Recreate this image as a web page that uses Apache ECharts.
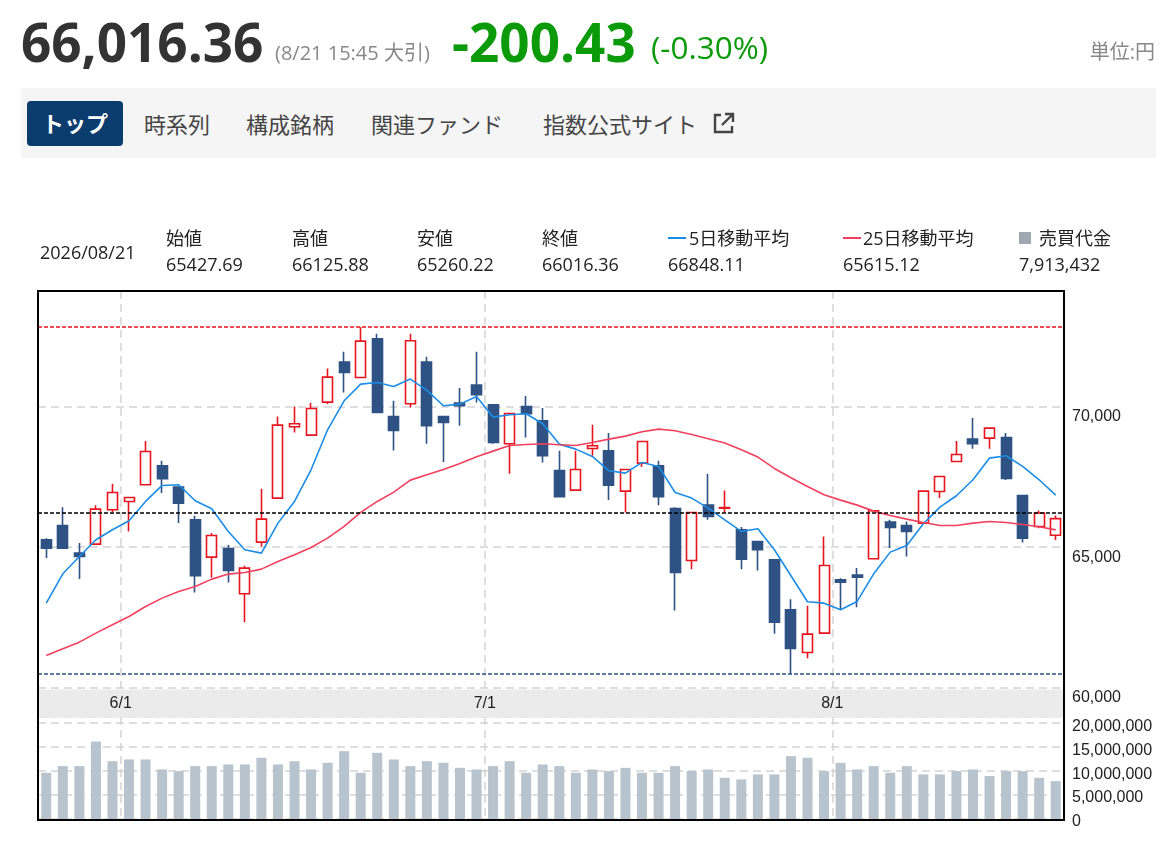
<!DOCTYPE html>
<html><head><meta charset="utf-8">
<script src="https://cdn.jsdelivr.net/npm/echarts@6/dist/echarts.min.js"></script>
<style>
html,body{margin:0;padding:0;background:#fff;width:1176px;height:846px;overflow:hidden;}
body{font-family:"Open Sans","Noto Sans CJK JP",sans-serif;color:#222;position:relative;}
.t{position:absolute;white-space:nowrap;}
#chart{position:absolute;left:0;top:0;width:1176px;height:846px;}
.tab{position:absolute;top:109px;line-height:30px;font-size:22px;color:#444;white-space:nowrap;}
.lab{position:absolute;top:226px;line-height:24px;font-size:18px;color:#222;white-space:nowrap;}
.val{position:absolute;top:252px;line-height:24px;font-size:18px;color:#222;white-space:nowrap;}
</style></head><body>
<div id="chart"></div>

<div class="t" style="left:21px;top:14px;line-height:56px;font-size:53px;font-weight:700;color:#333;">66,016.36</div>
<div class="t" style="left:275px;top:41px;line-height:24px;font-size:20px;color:#888;">(8/21 15:45 大引)</div>
<div class="t" style="left:452px;top:14px;line-height:56px;font-size:53px;font-weight:700;color:#0a9a0a;">-200.43</div>
<div class="t" style="left:651px;top:29px;line-height:36px;font-size:31.5px;color:#0a9a0a;">(-0.30%)</div>
<div class="t" style="right:21px;top:40px;line-height:24px;font-size:20px;color:#888;">単位:円</div>

<div style="position:absolute;left:21px;top:88px;width:1135px;height:70px;background:#f5f5f5;"></div>
<div style="position:absolute;left:27px;top:101px;width:96px;height:45px;background:#0b3c6e;border-radius:4px;color:#fff;font-size:22px;font-weight:700;line-height:45px;text-align:center;">トップ</div>
<div class="tab" style="left:144px;">時系列</div>
<div class="tab" style="left:246px;">構成銘柄</div>
<div class="tab" style="left:371px;">関連ファンド</div>
<div class="tab" style="left:543px;">指数公式サイト</div>
<svg style="position:absolute;left:711px;top:111px;" width="25" height="25" viewBox="0 0 25 25">
  <path d="M10 4 H4 V21 H21 V15" fill="none" stroke="#444" stroke-width="2.4"/>
  <path d="M14 3 H22 V11 M22 3 L11 14" fill="none" stroke="#444" stroke-width="2.4"/>
</svg>

<div class="t" style="left:40px;top:240px;line-height:24px;font-size:18px;color:#222;">2026/08/21</div>
<div class="lab" style="left:166px;">始値</div><div class="val" style="left:166px;">65427.69</div>
<div class="lab" style="left:292px;">高値</div><div class="val" style="left:292px;">66125.88</div>
<div class="lab" style="left:417px;">安値</div><div class="val" style="left:417px;">65260.22</div>
<div class="lab" style="left:542px;">終値</div><div class="val" style="left:542px;">66016.36</div>
<div style="position:absolute;left:668px;top:237px;width:18px;height:2px;background:#1b8de6;"></div>
<div class="lab" style="left:689px;">5日移動平均</div><div class="val" style="left:668px;">66848.11</div>
<div style="position:absolute;left:843px;top:237px;width:18px;height:2px;background:#f2415e;"></div>
<div class="lab" style="left:863px;">25日移動平均</div><div class="val" style="left:843px;">65615.12</div>
<div style="position:absolute;left:1019px;top:232px;width:12px;height:12px;background:#9fa7b0;"></div>
<div class="lab" style="left:1039px;">売買代金</div><div class="val" style="left:1019px;">7,913,432</div>

<script>
const dates = [
 '2026/05/25','2026/05/26','2026/05/27','2026/05/28','2026/05/29',
 '2026/06/01','2026/06/02','2026/06/03','2026/06/04','2026/06/05',
 '2026/06/08','2026/06/09','2026/06/10','2026/06/11','2026/06/12',
 '2026/06/15','2026/06/16','2026/06/17','2026/06/18','2026/06/19',
 '2026/06/22','2026/06/23','2026/06/24','2026/06/25','2026/06/26',
 '2026/06/29','2026/06/30',
 '2026/07/01','2026/07/02','2026/07/03','2026/07/06','2026/07/07',
 '2026/07/08','2026/07/09','2026/07/10','2026/07/13','2026/07/14',
 '2026/07/15','2026/07/16','2026/07/17','2026/07/21','2026/07/22',
 '2026/07/23','2026/07/24','2026/07/27','2026/07/28','2026/07/29','2026/07/30',
 '2026/08/03','2026/08/04','2026/08/05','2026/08/06','2026/08/07',
 '2026/08/10','2026/08/12','2026/08/13','2026/08/14','2026/08/17',
 '2026/08/18','2026/08/19','2026/08/20','2026/08/21'
];
const tickLabels = ['6/1','7/1','8/1'];

const opens = [65264,65773,64790,65110,66330,66626,67218,67892,67135,65974,
 64648,64956,63346,65181,66744,69278,68982,70154,71575,71030,
 72404,69645,70095,71575,69645,70118,70758,70059,68674,70000,
 69491,67727,67028,68508,68425,66993,67987,67892,66377,64530,
 66495,66389,65619,65205,64554,62778,61262,61949,63843,64009,
 64589,65892,65773,65856,66981,68046,68840,68875,68899,66839,
 65738,65427.69];
const highs = [65323,66424,65146,66495,67253,66780,68769,68070,67160,66116,
 65501,65075,64340,67075,69645,70000,70118,71350,71942,72818,
 72581,70201,72581,71764,69660,70651,71942,70070,69760,70367,
 69941,68425,68425,69349,69053,67770,68770,68070,66424,66240,
 67608,67016,65714,65220,64570,63156,62920,65382,63902,64258,
 66310,65974,65915,67010,67530,68769,69586,69245,69053,66850,
 66306,66125.88];
const lows = [64613,64950,63867,65100,66247,65560,67200,66922,65856,63393,
 63926,63749,62339,65027,66730,69076,68970,70083,70497,71020,
 69770,68437,69964,68674,68023,69313,70142,68674,67608,68899,
 68011,66780,67020,68248,66673,66235,67845,66495,62754,64222,
 65974,66235,64222,64175,61925,60492,61061,61930,62778,62872,
 64570,64968,64672,65840,66744,68030,68496,68496,67383,65169,
 65678,65260.22];
const closes = [64968,64968,64672,66353,66945,66768,68402,67431,66566,63985,
 65418,64175,64258,65998,69337,69384,69929,71042,71208,72321,
 69787,69148,72332,69313,69432,70024,70414,68721,69751,69740,
 68248,66791,67762,68603,67206,67762,68757,66791,64104,66235,
 66093,66412,64577,64909,62339,61404,61913,64352,63760,63938,
 66294,65702,65560,66993,67514,68295,68674,69230,67443,65323,
 66216.79,66016.36];
const ma5 = [63014,64056,64672,65264,65619,65939,66626,67194,67218,66649,
 66365,65560,64909,64790,65856,66626,67750,69171,70201,70793,
 70852,70710,70971,70568,70024,70083,70355,69621,69704,69740,
 69384,68662,68484,68224,67715,67632,68011,67869,66945,66744,
 66389,65974,65560,65655,64909,63985,63062,63014,62778,63074,
 64056,64826,65063,65832,66424,66827,67395,68165,68248,67869,
 67395,66848.11];
const ma25 = [61155,61392,61629,61949,62245,62541,62896,63192,63429,63606,
 63867,64045,64104,64222,64494,64731,64992,65323,65738,66235,
 66626,66957,67383,67573,67762,67975,68212,68413,68615,68650,
 68674,68638,68615,68721,68840,68946,69100,69195,69136,69006,
 68852,68698,68461,68201,67798,67466,67158,66862,66673,66495,
 66282,66128,65998,65880,65773,65773,65856,65915,65880,65809,
 65726,65615.12];
const volumes = [9650000,11040000,11040000,16180000,12080000,12430000,12430000,10350000,10000000,11040000,
 11040000,11390000,11390000,12780000,11390000,12080000,10350000,11740000,14170000,9650000,
 13820000,12430000,11040000,12080000,11740000,10690000,10350000,11040000,12080000,9650000,
 11390000,11040000,9650000,10350000,10000000,10690000,9650000,9650000,11040000,10000000,
 10350000,8610000,8260000,9310000,9310000,13130000,12780000,10000000,11740000,10350000,
 11040000,9650000,11040000,9310000,9310000,10000000,10350000,8960000,10000000,10000000,
 8610000,7913432];
const prevClose = 66216.79;

const candleData = opens.map((o,i)=>[o, closes[i], lows[i], highs[i]]);
const monthStarts = [];
dates.forEach((d,i)=>{ if(i>0 && d.slice(5,7)!==dates[i-1].slice(5,7)) monthStarts.push(i); });
const monthStartSet = new Set(monthStarts);
const labelPos = monthStarts.map(i=>i-0.5);
const labelMap = {};
labelPos.forEach((p,k)=>{ labelMap[p] = tickLabels[k]; });

const gridDash = {type:[8,5], color:'#d4d4d4', width:1.5};
const axisFont = {fontFamily:'"Liberation Sans", Arial, sans-serif', fontSize:16, color:'#222'};

const chart = echarts.init(document.getElementById('chart'));
chart.setOption({
  animation:false,
  grid:[
    {left:38, top:291, width:1026, height:397},
    {left:38, top:717, width:1026, height:102}
  ],
  xAxis:[
    {type:'category', gridIndex:0, data:dates, boundaryGap:true,
     axisLine:{show:false}, axisTick:{show:false}, axisLabel:{show:false},
     splitLine:{show:true, interval:(i)=>monthStartSet.has(i), lineStyle:gridDash}},
    {type:'category', gridIndex:1, data:dates, boundaryGap:true,
     axisLine:{show:false}, axisTick:{show:false}, axisLabel:{show:false},
     splitLine:{show:true, interval:(i)=>monthStartSet.has(i), lineStyle:gridDash}},
    {type:'value', gridIndex:1, position:'top', min:-0.5, max:dates.length-0.5, z:5,
     axisLine:{show:false}, axisTick:{show:false}, splitLine:{show:false},
     axisLabel:Object.assign({customValues:labelPos, formatter:(v)=>labelMap[v]||'',
       margin:13, verticalAlign:'middle', showMinLabel:true, showMaxLabel:true}, axisFont)}
  ],
  yAxis:[
    {type:'value', gridIndex:0, position:'right', min:60000, max:74100, interval:5000,
     axisLine:{show:false}, axisTick:{show:false},
     splitLine:{show:true, lineStyle:gridDash},
     axisLabel:Object.assign({margin:8, verticalAlign:'top', padding:[2,0,0,0], showMaxLabel:false,
       formatter:(v)=> v%5000===0 ? v.toLocaleString('en-US') : ''}, axisFont)},
    {type:'value', gridIndex:1, position:'right', min:0, max:21300000, interval:5000000,
     axisLine:{show:false}, axisTick:{show:false},
     splitLine:{show:true, lineStyle:gridDash},
     axisLabel:Object.assign({margin:8, verticalAlign:'top', padding:[-5,0,0,0], showMaxLabel:false,
       formatter:(v)=> v%5000000===0 ? v.toLocaleString('en-US') : ''}, axisFont)}
  ],
  graphic:[
    {type:'rect', z:1, shape:{x:38, y:689.5, width:1026, height:28.3}, style:{fill:'#ebebeb'}},
    {type:'rect', z:20, shape:{x:38, y:291, width:1026, height:529}, style:{fill:'none', stroke:'#000', lineWidth:2}}
  ],
  series:[
    {type:'candlestick', xAxisIndex:0, yAxisIndex:0, data:candleData, barWidth:10.5,
     itemStyle:{color:'#ffffff', color0:'#2e5283', borderColor:'#e8141e', borderColor0:'#2e5283', borderWidth:1.6},
     markLine:{symbol:'none', silent:true, label:{show:false}, animation:false,
       data:[
         {yAxis:Math.max(...highs), lineStyle:{color:'#e8141e', type:[4,2], width:1.5}},
         {yAxis:Math.min(...lows), lineStyle:{color:'#2e5283', type:[4,2], width:1.5}},
         {yAxis:prevClose, lineStyle:{color:'#000', type:[4,2], width:1.5}}
       ]}},
    {type:'line', xAxisIndex:0, yAxisIndex:0, data:ma5, showSymbol:false, symbol:'none',
     lineStyle:{color:'#1b8de6', width:1.6}, itemStyle:{color:'#1b8de6'}},
    {type:'line', xAxisIndex:0, yAxisIndex:0, data:ma25, showSymbol:false, symbol:'none',
     lineStyle:{color:'#f2415e', width:1.6}, itemStyle:{color:'#f2415e'}},
    {type:'bar', xAxisIndex:1, yAxisIndex:1, data:volumes, barWidth:10,
     itemStyle:{color:'#b7c4cd'}}
  ]
});
</script>
</body></html>
